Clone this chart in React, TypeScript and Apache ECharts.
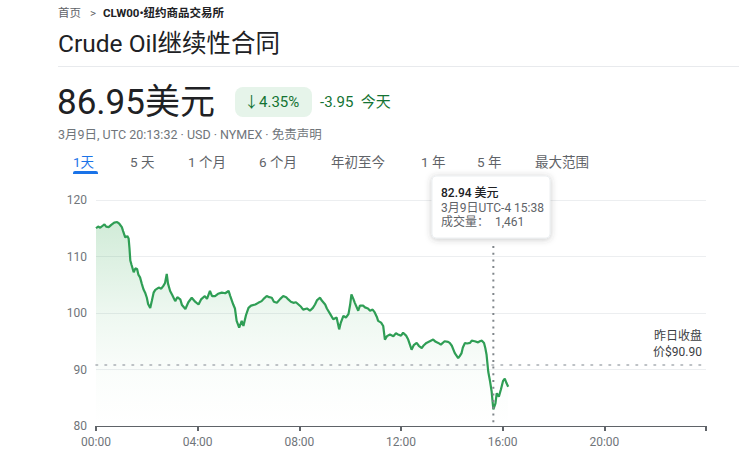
import React, { useEffect, useRef } from "react";
import * as echarts from "echarts";

// Intraday quotes: minutes after 00:00 (UTC-4) and price in USD
const TIMES = [
  0, 5, 10, 15, 20, 24, 30, 36, 43, 50, 55, 61, 64, 69, 74, 77, 79, 81, 84, 89,
  93, 97, 100, 104, 108, 112, 116, 120, 123, 128, 132, 136, 140, 148, 154, 159, 163, 167, 170, 175,
  180, 187, 192, 199, 203, 211, 218, 226, 234, 242, 248, 257, 262, 269, 274, 281, 288, 297, 305, 313,
  317, 324, 328, 332, 338, 344, 348, 354, 360, 366, 376, 383, 391, 397, 403, 409, 415, 420, 427, 435,
  442, 449, 454, 460, 466, 472, 478, 484, 489, 498, 505, 512, 517, 522, 529, 533, 541, 545, 553, 560,
  568, 574, 578, 584, 590, 596, 600, 603, 607, 611, 619, 623, 631, 635, 642, 647, 653, 658, 663, 666,
  673, 678, 682, 687, 694, 702, 708, 713, 720, 725, 732, 737, 741, 745, 750, 757, 762, 769, 774, 780,
  788, 796, 802, 808, 814, 823, 831, 835, 840, 847, 855, 859, 863, 866, 871, 876, 883, 887, 894, 902,
  906, 911, 916, 919, 922, 926, 930, 934, 936, 938, 943, 946, 951, 956, 961, 965, 969, 973,
];
const PRICES = [
  115.0, 115.3, 115.1, 115.4, 115.7, 115.3, 115.2, 115.6, 116.0, 116.1, 115.8, 115.2, 114.5, 113.4, 113.6, 113.2, 111.5, 109.3, 108.5, 107.2,
  107.9, 107.8, 106.8, 106.3, 105.2, 104.2, 103.6, 102.7, 101.6, 100.9, 102.2, 103.6, 104.1, 104.5, 104.3, 104.8, 105.3, 106.9, 105.2, 103.9,
  103.2, 102.1, 102.8, 102.4, 101.4, 100.7, 101.9, 102.7, 102.0, 101.5, 102.4, 103.0, 102.5, 103.9, 103.0, 103.0, 103.4, 103.6, 103.5, 103.9,
  103.0, 101.5, 100.8, 98.6, 97.4, 98.6, 97.7, 99.6, 100.9, 101.3, 101.5, 101.8, 102.1, 102.6, 103.0, 102.8, 102.7, 102.0, 101.8, 102.5,
  103.0, 102.8, 102.4, 102.0, 101.8, 101.9, 101.5, 101.1, 100.6, 100.8, 100.4, 100.9, 101.5, 102.3, 102.7, 102.2, 101.5, 100.8, 99.8, 98.9,
  99.2, 97.1, 98.3, 99.5, 99.2, 99.8, 101.5, 103.3, 102.6, 101.8, 100.4, 101.3, 101.3, 101.0, 100.8, 100.4, 100.6, 100.1, 99.3, 98.6,
  98.3, 97.7, 95.3, 95.9, 96.2, 95.9, 96.4, 96.2, 96.0, 96.5, 96.0, 95.3, 94.4, 93.5, 94.3, 94.7, 94.2, 93.8, 94.3, 94.7,
  95.0, 95.3, 94.9, 94.7, 94.4, 95.0, 94.9, 94.7, 94.2, 92.9, 92.0, 92.4, 92.9, 93.9, 94.7, 94.6, 94.7, 95.1, 95.0, 94.8,
  95.0, 95.1, 94.7, 93.8, 92.6, 89.6, 88.0, 86.1, 84.5, 82.94, 84.0, 85.8, 85.2, 86.5, 88.0, 88.4, 87.6, 86.95,
];

const Y_TICKS = [80, 90, 100, 110, 120];
const X_TICK_HOURS = [0, 4, 8, 12, 16, 20, 24];
const PREV_CLOSE = 90.9;

const HOVER_TIME = 938;
const HOVER_PRICE = 82.94;
const HOVER_VOLUME = "1,461";

const LAST_PRICE = "86.95";
const CHANGE_PCT = "4.35%";
const CHANGE_ABS = "-3.95";

const TABS = ["1天", "5 天", "1 个月", "6 个月", "年初至今", "1 年", "5 年", "最大范围"];
const TAB_X = [73, 130, 188, 259, 331, 421, 477, 535];

const FONT = "Roboto, 'Noto Sans CJK SC', sans-serif";
const GREEN = "#2f9e55";

const pad2 = (n: number) => (n < 10 ? "0" + n : "" + n);
const hhmm = (m: number) => pad2(Math.floor(m / 60)) + ":" + pad2(m % 60);

function txt(text: string, x: number, y: number, size: number, fill: string, extra: any = {}) {
  return {
    type: "text",
    silent: true,
    style: {
      text,
      x,
      y,
      fill,
      fontSize: size,
      fontFamily: FONT,
      verticalAlign: "middle",
      align: "left",
      ...extra,
    },
  };
}

export default function App() {
  const ref = useRef<HTMLDivElement>(null);

  useEffect(() => {
    if (!ref.current) return;
    const chart = echarts.init(ref.current, undefined, { renderer: "svg" });

    chart.setOption({
      animation: false,
      backgroundColor: "#ffffff",
      grid: { left: 96, right: 33, top: 200, bottom: 43 },
      xAxis: {
        type: "value",
        min: X_TICK_HOURS[0] * 60,
        max: X_TICK_HOURS[X_TICK_HOURS.length - 1] * 60,
        interval: 240,
        axisLine: { show: true, lineStyle: { color: "#5f6368", width: 1 } },
        axisTick: { show: true, length: 5, lineStyle: { color: "#5f6368", width: 2 } },
        splitLine: { show: false },
        axisLabel: {
          margin: 10,
          color: "#70757a",
          fontSize: 12,
          fontFamily: FONT,
          formatter: (v: number) => (v >= 1440 ? "" : hhmm(v)),
        },
      },
      yAxis: {
        type: "value",
        min: Y_TICKS[0],
        max: Y_TICKS[Y_TICKS.length - 1],
        interval: 10,
        axisLine: { show: false },
        axisTick: { show: false },
        splitLine: { show: true, lineStyle: { color: "#eceef0", width: 1 } },
        axisLabel: { margin: 9, color: "#70757a", fontSize: 12, fontFamily: FONT },
      },
      series: [
        {
          type: "line",
          data: TIMES.map((t, i) => [t, PRICES[i]]),
          showSymbol: false,
          smooth: false,
          lineStyle: { color: GREEN, width: 2.2 },
          areaStyle: {
            color: new echarts.graphic.LinearGradient(0, 0, 0, 1, [
              { offset: 0, color: "rgba(52,168,83,0.32)" },
              { offset: 0.45, color: "rgba(52,168,83,0.12)" },
              { offset: 0.75, color: "rgba(52,168,83,0.03)" },
              { offset: 1, color: "rgba(52,168,83,0)" },
            ]),
          },
          markLine: {
            silent: true,
            symbol: "none",
            lineStyle: { color: "#a8adb3", width: 1.6, type: [1.6, 7.4], cap: "round" },
            label: {
              show: true,
              position: "insideEndTop",
              distance: 4,
              formatter: "昨日收盘\n价$" + PREV_CLOSE.toFixed(2),
              color: "#3c4043",
              fontSize: 12,
              lineHeight: 16,
              fontFamily: FONT,
              align: "right",
            },
            data: [{ yAxis: PREV_CLOSE }],
          },
        },
      ],
    });

    // Hover marker: crosshair and info card above the chosen quote
    const [cx] = chart.convertToPixel({ xAxisIndex: 0, yAxisIndex: 0 }, [HOVER_TIME, HOVER_PRICE]) as number[];
    const axisY = chart.convertToPixel({ yAxisIndex: 0 }, Y_TICKS[0]) as number;
    const cardW = 118;
    const cardX = Math.round(cx - cardW / 2 - 2);

    const header: any[] = [
      txt("首页", 58, 13, 11.5, "#5f6368"),
      txt(">", 90, 13, 11.5, "#5f6368"),
      txt("CLW00•纽约商品交易所", 103, 13, 11.5, "#202124", { fontWeight: "bold" }),
      txt("Crude Oil继续性合同", 58, 43, 24.5, "#202124"),
      {
        type: "rect",
        silent: true,
        shape: { x: 58, y: 66, width: 681, height: 1 },
        style: { fill: "#e8eaed" },
      },
      txt(LAST_PRICE + "美元", 57, 102, 35, "#202124"),
      {
        type: "rect",
        silent: true,
        shape: { x: 235, y: 87, width: 77, height: 30, r: 8 },
        style: { fill: "#e6f4ea" },
      },
      txt("↓" + CHANGE_PCT, 244, 102, 15, "#137333"),
      txt(CHANGE_ABS + "  今天", 320, 102, 15, "#137333"),
      txt("3月9日, UTC 20:13:32 · USD · NYMEX · 免责声明", 58, 134, 12.5, "#70757a"),
      ...TABS.map((t, i) => txt(t, TAB_X[i], 162, 13.5, i === 0 ? "#1a73e8" : "#5f6368")),
      {
        type: "rect",
        silent: true,
        shape: { x: 73, y: 171, width: 25, height: 3, r: [2, 2, 0, 0] },
        style: { fill: "#1a73e8" },
      },
    ];

    const hover: any[] = [
      {
        type: "line",
        silent: true,
        z: 10,
        shape: { x1: cx, y1: 246, x2: cx, y2: axisY },
        style: { stroke: "#80868b", lineWidth: 2, lineDash: [2, 4.7] },
      },
      {
        type: "rect",
        silent: true,
        z: 11,
        shape: { x: cardX, y: 176, width: cardW, height: 62, r: 4 },
        style: {
          fill: "#ffffff",
          stroke: "#eceff1",
          lineWidth: 1,
          shadowBlur: 6,
          shadowOffsetY: 1,
          shadowColor: "rgba(60,64,67,0.3)",
        },
      },
      { ...txt(HOVER_PRICE.toFixed(2) + " 美元", cardX + 9, 193, 12, "#202124", { fontWeight: 500 }), z: 12 },
      { ...txt("3月9日UTC-4 " + hhmm(HOVER_TIME), cardX + 9, 207.5, 12, "#5f6368"), z: 12 },
      { ...txt("成交量：  " + HOVER_VOLUME, cardX + 9, 222, 12, "#5f6368"), z: 12 },
    ];

    chart.setOption({ graphic: [...header, ...hover] });

    return () => chart.dispose();
  }, []);

  return (
    <div
      ref={ref}
      style={{ position: "fixed", left: 0, top: 0, width: 739, height: 469, background: "#ffffff" }}
    />
  );
}
